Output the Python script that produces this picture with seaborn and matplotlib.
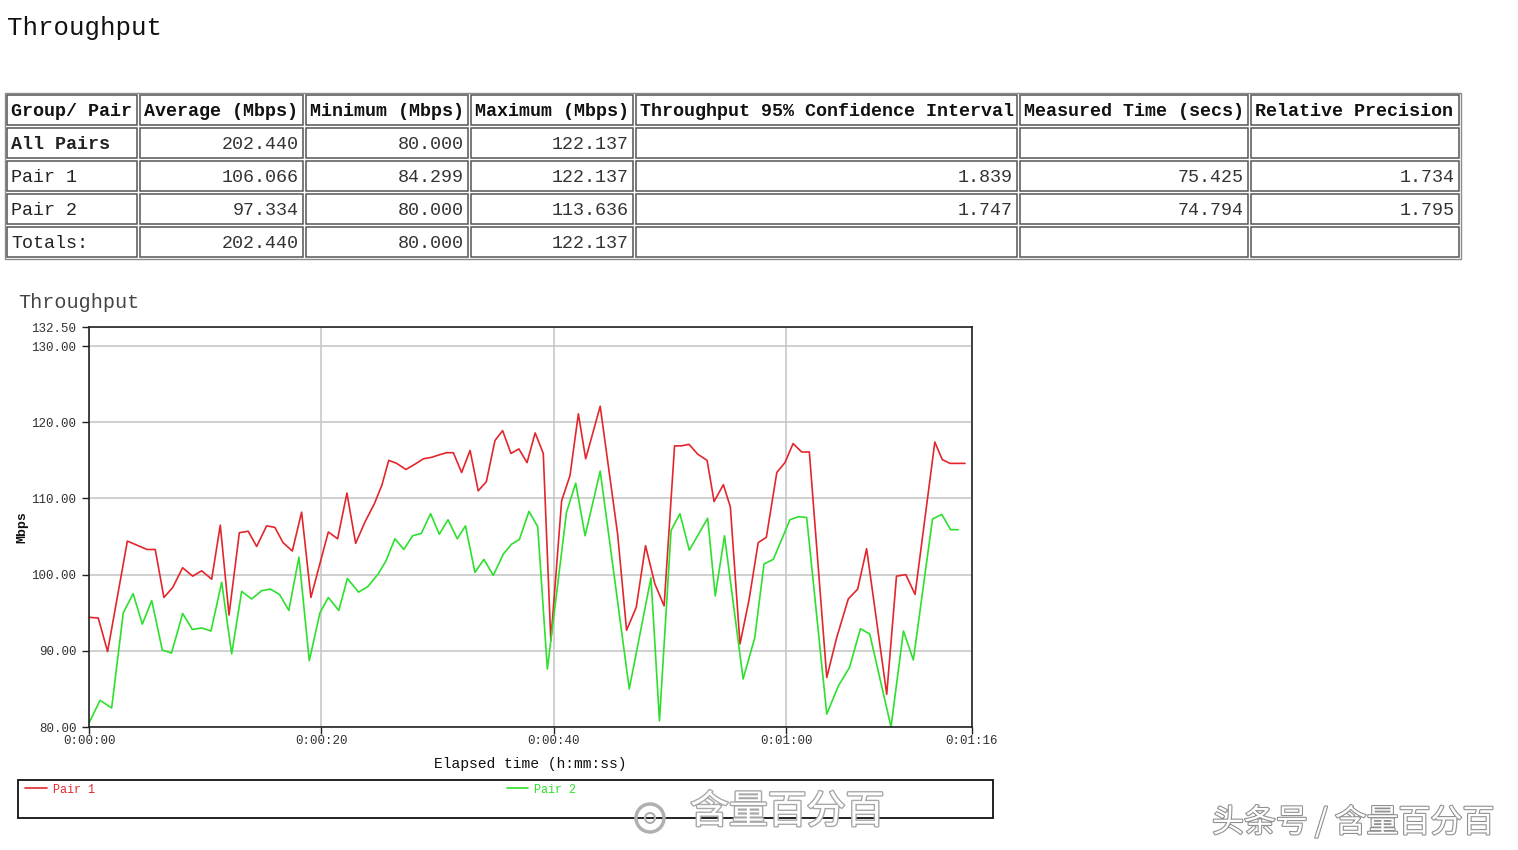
import pandas as pd
import matplotlib
matplotlib.use("Agg")
import matplotlib.pyplot as plt
import matplotlib.patheffects as pe
from matplotlib.patches import Rectangle, Circle
import seaborn as sns

# summary table
table_header = ["Group/ Pair", "Average (Mbps)", "Minimum (Mbps)", "Maximum (Mbps)",
                "Throughput 95% Confidence Interval", "Measured Time (secs)", "Relative Precision"]
row_labels = ["All Pairs", "Pair 1", "Pair 2", "Totals:"]
avg_mbps = ["202.440", "106.066", "97.334", "202.440"]
min_mbps = ["80.000", "84.299", "80.000", "80.000"]
max_mbps = ["122.137", "122.137", "113.636", "122.137"]
conf_interval = ["", "1.839", "1.747", ""]
measured_time = ["", "75.425", "74.794", ""]
rel_precision = ["", "1.734", "1.795", ""]

# throughput samples (elapsed seconds, Mbps)
pair1_t = [0, 0.8, 1.6, 3.3, 5.0, 5.7, 6.45, 7.2, 8.06, 8.92, 9.7, 10.56, 11.3, 12.05,
           12.94, 13.7, 14.43, 15.29, 16.0, 16.7, 17.5, 18.3, 19.1, 20.6, 21.4, 22.2,
           22.95, 23.75, 24.56, 25.2, 25.8, 26.48, 27.28, 28.06, 28.78, 29.5, 30.2,
           30.78, 31.36, 32.07, 32.8, 33.5, 34.2, 34.94, 35.6, 36.32, 37.0, 37.7, 38.4,
           39.1, 39.75, 40.68, 41.4, 42.12, 42.75, 44.0, 45.5, 46.27, 47.1, 47.9, 48.7,
           49.5, 50.4, 51.0, 51.64, 52.4, 53.2, 53.8, 54.6, 55.2, 56.03, 56.8, 57.6,
           58.3, 59.2, 59.9, 60.6, 61.34, 62.0, 63.5, 64.35, 65.35, 66.16, 66.93, 68.66,
           69.5, 70.3, 71.1, 72.8, 73.44, 74.1, 75.4]
pair1_v = [94.4, 94.3, 89.9, 104.4, 103.3, 103.3, 97.0, 98.3, 100.9, 99.8, 100.5, 99.4,
           106.5, 94.7, 105.5, 105.7, 103.7, 106.4, 106.2, 104.2, 103.1, 108.2, 97.0,
           105.6, 104.7, 110.7, 104.1, 106.9, 109.3, 111.7, 115.0, 114.6, 113.8, 114.5,
           115.2, 115.4, 115.75, 116.0, 116.0, 113.4, 116.3, 111.0, 112.2, 117.6, 118.9,
           115.9, 116.5, 114.7, 118.6, 115.9, 91.3, 109.7, 113.0, 121.1, 115.2, 122.1,
           105.3, 92.7, 95.7, 103.8, 98.8, 95.9, 116.9, 116.9, 117.1, 115.8, 115.0, 109.6,
           111.8, 108.9, 90.9, 96.6, 104.2, 104.9, 113.4, 114.7, 117.2, 116.1, 116.1,
           86.5, 91.7, 96.8, 98.1, 103.4, 84.3, 99.8, 100.0, 97.4, 117.4, 115.1, 114.6,
           114.6]

pair2_t = [0, 0.95, 1.95, 2.95, 3.8, 4.59, 5.4, 6.31, 7.1, 8.06, 8.9, 9.7, 10.5, 11.42,
           12.28, 13.14, 14.0, 14.87, 15.6, 16.4, 17.2, 18.07, 18.96, 19.88, 20.6, 21.5,
           22.24, 23.2, 23.98, 24.9, 25.56, 26.33, 27.1, 27.85, 28.6, 29.4, 30.15, 30.9,
           31.7, 32.4, 33.22, 33.99, 34.8, 35.66, 36.37, 37.04, 37.87, 38.62, 39.45, 41.1,
           41.89, 42.7, 44.0, 46.5, 48.37, 49.1, 50.1, 50.86, 51.67, 53.25, 53.9, 54.7,
           56.3, 57.3, 58.1, 58.9, 60.33, 61.05, 61.77, 63.5, 64.5, 65.45, 66.4, 67.2,
           69.03, 70.1, 70.95, 72.6, 73.4, 74.16, 74.8]
pair2_v = [80.5, 83.5, 82.5, 95.0, 97.5, 93.5, 96.6, 90.1, 89.7, 94.9, 92.8, 93.0, 92.6,
           99.0, 89.6, 97.8, 96.8, 97.9, 98.1, 97.4, 95.3, 102.3, 88.7, 95.0, 97.0, 95.3,
           99.5, 97.7, 98.4, 100.1, 101.8, 104.7, 103.3, 105.1, 105.4, 108.0, 105.3, 107.2,
           104.7, 106.4, 100.3, 102.0, 99.9, 102.7, 104.0, 104.6, 108.3, 106.3, 87.6,
           108.2, 112.0, 105.1, 113.6, 85.0, 99.6, 80.8, 105.8, 108.0, 103.2, 107.4, 97.2,
           105.1, 86.3, 91.7, 101.4, 102.0, 107.2, 107.6, 107.5, 81.7, 85.4, 87.8, 92.9,
           92.2, 80.0, 92.6, 88.8, 107.3, 107.9, 105.9, 105.9]

xtick_secs = [0, 20, 40, 60, 76]
xtick_labels = ["0:00:00", "0:00:20", "0:00:40", "0:01:00", "0:01:16"]
ytick_vals = [80, 90, 100, 110, 120, 130, 132.5]

RED = "#e3262b"
GREEN = "#2ee02e"
MONO = "Liberation Mono"

sns.set_style("white")
plt.rcParams["font.family"] = [MONO, "DejaVu Sans"]

fig = plt.figure(figsize=(15.18, 8.5), dpi=100)

# page canvas in pixel units for the html-like parts
page = fig.add_axes([0, 0, 1, 1])
page.set_xlim(0, 1518)
page.set_ylim(850, 0)
page.axis("off")

page.text(7, 28, "Throughput", fontsize=18.5, ha="left", va="center", color="#111")

# table
col_edges = [5, 138, 304, 469, 634, 1018, 1249, 1460]
row_edges = [93, 126, 159, 192, 225, 258]
page.add_patch(Rectangle((col_edges[0], row_edges[0]), col_edges[-1] - col_edges[0] + 1,
                         row_edges[-1] - row_edges[0] + 1, fill=False, ec="#8a8a8a", lw=1.0))
columns = [row_labels, avg_mbps, min_mbps, max_mbps, conf_interval, measured_time, rel_precision]
for r in range(5):
    y0, y1 = row_edges[r] + 2, row_edges[r + 1] - 1
    for c in range(7):
        x0, x1 = col_edges[c] + 2, col_edges[c + 1] - 1
        page.add_patch(Rectangle((x0, y0), x1 - x0, y1 - y0, fill=False, ec="#555", lw=1.1))
        ym = (y0 + y1) / 2 + 1
        if r == 0:
            page.text(x0 + 4, ym, table_header[c], fontsize=13.2, ha="left", va="center",
                      fontweight="bold", color="#111")
        else:
            val = columns[c][r - 1]
            if c == 0:
                page.text(x0 + 4, ym, val, fontsize=13.2, ha="left", va="center",
                          fontweight="bold" if r == 1 else "normal", color="#222")
            else:
                page.text(x1 - 4, ym, val, fontsize=13.2, ha="right", va="center", color="#333")

page.text(18, 303, "Throughput", fontsize=14.5, ha="left", va="center", color="#444")

# legend box
page.add_patch(Rectangle((18, 780), 975, 38, fill=False, ec="#111", lw=1.3))
page.plot([25, 47], [788, 788], color=RED, lw=1.2)
page.text(53, 790, "Pair 1", fontsize=8.5, color=RED, va="center", ha="left")
page.plot([507, 528], [788, 788], color=GREEN, lw=1.2)
page.text(534, 790, "Pair 2", fontsize=8.5, color=GREEN, va="center", ha="left")

# watermarks
cjk = ["Noto Sans CJK SC", "DejaVu Sans"]
page.add_patch(Circle((650, 818), 14, fill=False, ec="#b0b0b0", lw=2.5))
page.add_patch(Circle((650, 818), 5, fill=False, ec="#b0b0b0", lw=1.5))
page.text(690, 812, "含量百分百", fontsize=28, family=cjk, color="white",
          ha="left", va="center", path_effects=[pe.withStroke(linewidth=2.0, foreground="#a8a8a8")])
page.text(1212, 822, "头条号 / 含量百分百", fontsize=23, family=cjk, color="white",
          ha="left", va="center", path_effects=[pe.withStroke(linewidth=1.6, foreground="#909090")])

# line chart
ax = fig.add_axes([89 / 1518, (850 - 727) / 850, 883 / 1518, 400 / 850])
df = pd.concat([
    pd.DataFrame({"t": pair1_t, "Mbps": pair1_v, "pair": "Pair 1"}),
    pd.DataFrame({"t": pair2_t, "Mbps": pair2_v, "pair": "Pair 2"}),
])
sns.lineplot(data=df, x="t", y="Mbps", hue="pair", palette={"Pair 1": RED, "Pair 2": GREEN},
             estimator=None, sort=False, linewidth=1.2, legend=False, ax=ax)

ax.set_xlim(0, 76)
ax.set_ylim(80, 132.5)
ax.set_xticks(xtick_secs)
ax.set_xticklabels(xtick_labels)
ax.set_yticks(ytick_vals)
ax.set_yticklabels([f"{v:.2f}" for v in ytick_vals])
ax.grid(True, color="#c8c8c8", lw=1.2)
ax.set_axisbelow(True)
for s in ax.spines.values():
    s.set_visible(True)
    s.set_color("#222")
    s.set_linewidth(1.2)
ax.tick_params(axis="both", direction="out", length=5, width=1, color="#222",
               labelsize=9, labelcolor="#333", left=True, bottom=True)
ax.tick_params(axis="y", pad=4)
ax.tick_params(axis="x", pad=1)
ax.set_xlabel("Elapsed time (h:mm:ss)", fontsize=10.5, color="#111")
ax.set_ylabel("Mbps", fontsize=9.5, color="#111", fontweight="bold")
ax.xaxis.set_label_coords(0.5, -0.075)
ax.yaxis.set_label_coords(-0.069, 0.5)

fig.savefig("out.png", dpi=100, facecolor="white")
